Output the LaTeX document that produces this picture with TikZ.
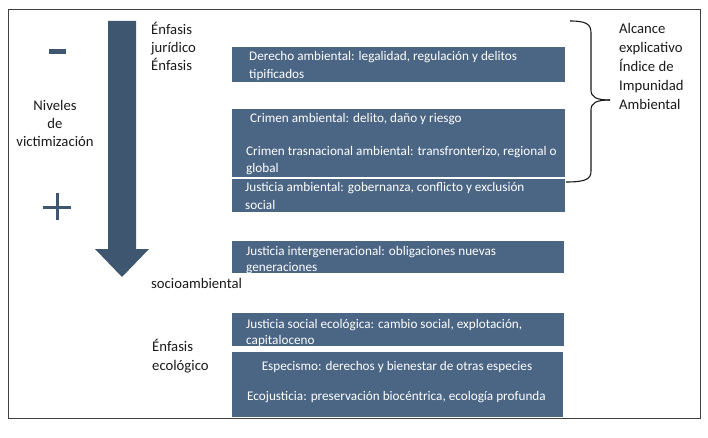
\documentclass[tikz,border=0pt]{standalone}
\usepackage{fontspec}
\setmainfont{Carlito}
\definecolor{boxblue}{HTML}{4B6584}
\definecolor{arrowblue}{HTML}{3F5670}
\definecolor{txt}{HTML}{1A1A1A}
\begin{document}
\begin{tikzpicture}[x=1pt,y=-1pt,
  bx/.style={fill=boxblue},
  bt/.style={text=white, font=\fontsize{13.2}{16}\selectfont, anchor=base west, inner sep=0pt},
  btc/.style={bt, anchor=base},
  ot/.style={text=txt, font=\fontsize{14.7}{18}\selectfont, anchor=base west, inner sep=0pt},
  otc/.style={ot, anchor=base},
  sign/.style={fill=arrowblue},
  bracest/.style={draw=txt, line width=1.1pt}
]
\useasboundingbox (0,0) rectangle (708,438);
\fill[white] (0,0) rectangle (708,438);
\draw[draw=black!75, line width=0.9pt] (8,9) rectangle (700,418);

% boxes
\path[bx] (232,47) rectangle (565,82);
\path[bx] (232,109) rectangle (565,177);
\path[bx] (232,179) rectangle (565,212);
\path[bx] (232,241) rectangle (564,273);
\path[bx] (232,313) rectangle (564,346);
\path[bx] (232,352) rectangle (563,417);

% box texts
\node[bt] (d1) at (249,61) {Derecho ambiental: legalidad, regulación y delitos};
\node[bt] (d2) at (249,79) {tipificados};
\node[bt] (c1) at (250,123) {Crimen ambiental: delito, daño y riesgo};
\node[bt] (c2) at (246,156) {Crimen trasnacional ambiental: transfronterizo, regional o};
\node[bt] (c3) at (246,173) {global};
\node[bt] (j1) at (245,192) {Justicia ambiental: gobernanza, conflicto y exclusión};
\node[bt] (j2) at (245,209) {social};
\node[bt] (i1) at (246,255) {Justicia intergeneracional: obligaciones nuevas};
\node[bt] (i2) at (246,271) {generaciones};
\node[bt] (s1) at (246,328) {Justicia social ecológica: cambio social, explotación,};
\node[bt] (s2) at (246,344) {capitaloceno};
\node[btc] (e1) at (397,370) {Especismo: derechos y bienestar de otras especies};
\node[bt] (e2) at (247,400) {Ecojusticia: preservación biocéntrica, ecología profunda};

% arrow
\fill[arrowblue] (108,21) -- (136,21) -- (136,249) -- (149,249) -- (122,277) -- (95,249) -- (108,249) -- cycle;

% signs
\fill[sign] (49,49.5) rectangle (66,54.5);
\fill[sign] (43,205.5) rectangle (71,208.5);
\fill[sign] (55.5,193) rectangle (58.5,220);

% left texts
\node[otc] (n1) at (55,111) {Niveles};
\node[otc] (n2) at (55,129) {de};
\node[otc] (n3) at (55,147) {victimización};
\node[ot] (f1) at (151,35) {Énfasis};
\node[ot] (f2) at (151,53) {jurídico};
\node[ot] (f3) at (151,71) {Énfasis};
\node[ot] (f4) at (151,288) {socioambiental};
\node[ot] (f5) at (152,351) {Énfasis};
\node[ot] (f6) at (152,370) {ecológico};

% brace
\draw[bracest] (570,21) .. controls (586,21) and (591,24) .. (591,33) -- (591,90) .. controls (591,97) and (596,100) .. (610,100);
\draw[bracest] (610,100) .. controls (596,100) and (591,103) .. (591,110) -- (591,171) .. controls (591,179) and (586,182) .. (566,182);

% right texts
\node[ot] (a1) at (619,34) {Alcance};
\node[ot] (a2) at (619,53) {explicativo};
\node[ot] (a3) at (619,72) {Índice de};
\node[ot] (a4) at (619,91) {Impunidad};
\node[ot] (a5) at (619,110) {Ambiental};
\end{tikzpicture}
\end{document}
